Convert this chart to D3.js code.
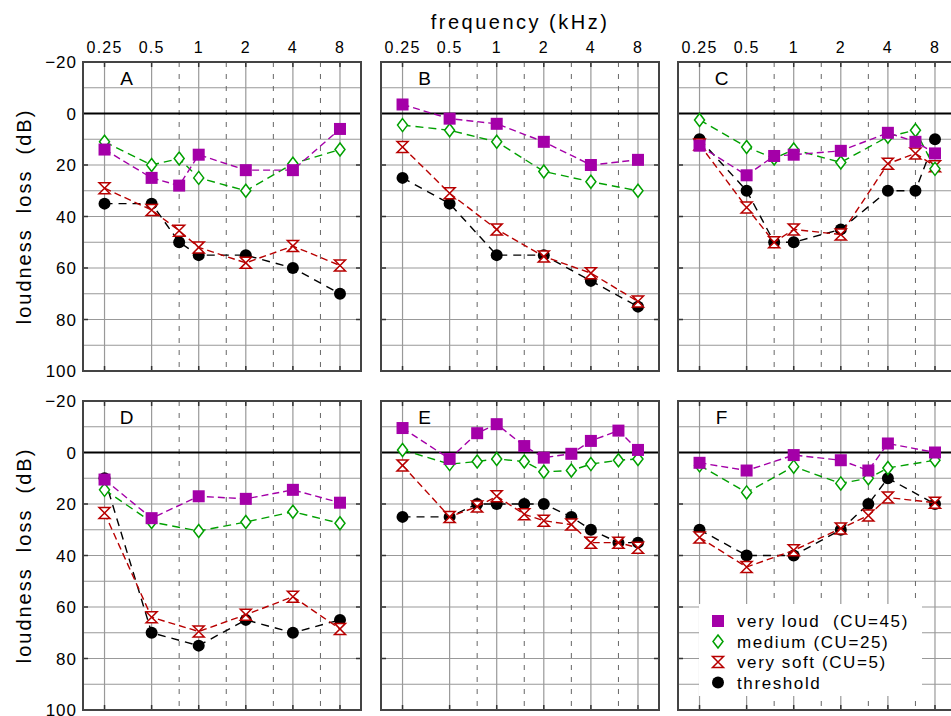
<!DOCTYPE html>
<html>
<head>
<meta charset="utf-8">
<script src="https://cdn.jsdelivr.net/npm/d3@7"></script>
<style>
  body { margin: 0; background: #fff; }
  text { font-family: "Liberation Sans", Arial, sans-serif; fill: #000; }
</style>
</head>
<body>
<svg id="chart" width="951" height="716"></svg>
<script>
// axis ticks
const octaveTicks = [0.25, 0.5, 1, 2, 4, 8];
const octaveLabels = ["0.25", "0.5", "1", "2", "4", "8"];
const halfOctaveTicks = [0.75, 1.5, 3, 6];
const dbTicks = [-20, 0, 20, 40, 60, 80, 100];
const dbGrid = [-10, 10, 20, 30, 40, 50, 60, 70, 80, 90];

// series (legend order)
const seriesNames = ["very loud  (CU=45)", "medium (CU=25)", "very soft (CU=5)", "threshold"];
const seriesKeys = ["loud", "medium", "soft", "thresh"];

// panel A
const freqA = [0.25, 0.5, 0.75, 1, 2, 4, 8];
const loudA = [14, 25, 28, 16, 22, 22, 6];
const mediumA = [11, 20, 17.5, 25, 30, 19.5, 14];
const softA = [29, 37.5, 45.5, 52, 58, 51.5, 59];
const threshA = [35, 35, 50, 55, 55, 60, 70];

// panel B
const freqB = [0.25, 0.5, 1, 2, 4, 8];
const loudB = [-3.5, 2, 4, 11, 20, 18];
const mediumB = [4.5, 6.5, 11, 22.5, 26.5, 30];
const softB = [13, 31, 45, 55.5, 62, 73];
const threshB = [25, 35, 55, 55, 65, 75];

// panel C
const freqC = [0.25, 0.5, 0.75, 1, 2, 4, 6, 8];
const loudC = [12.5, 24, 16.5, 16, 14.5, 7.5, 11, 15.5];
const mediumC = [2.5, 13, 17.5, 14, 19, 9, 6.5, 21.5];
const softC = [12, 36.5, 50, 45, 47, 19.5, 15.5, 20.5];
const threshC = [10, 30, 50, 50, 45, 30, 30, 10];

// panel D
const freqD = [0.25, 0.5, 1, 2, 4, 8];
const loudD = [10.5, 25.5, 17, 18, 14.5, 19.5];
const mediumD = [14.5, 27, 30.5, 27, 23, 27.5];
const softD = [23.5, 64, 69.5, 63, 56, 68.5];
const threshD = [10, 70, 75, 65, 70, 65];

// panel E
const freqE = [0.25, 0.5, 0.75, 1, 1.5, 2, 3, 4, 6, 8];
const loudE = [-9.5, 2.5, -7.5, -11, -2.5, 2, 0.5, -4.5, -8.5, -1];
const mediumE = [-1, 4.5, 3.5, 2.5, 3.5, 7.5, 7, 4.5, 3, 2.5];
const softE = [5, 25, 21, 17, 24, 26.5, 28, 35, 35, 37];
const threshE = [25, 25, 20, 20, 20, 20, 25, 30, 35, 35];

// panel F
const freqF = [0.25, 0.5, 1, 2, 3, 4, 8];
const loudF = [4, 7, 1, 3, 7, -3.5, 0];
const mediumF = [5, 15.5, 5.5, 12, 10, 6, 3];
const softF = [33, 44.5, 38, 29.5, 24.5, 17.5, 19.5];
const threshF = [30, 40, 40, 30, 20, 10, 20];

const panels = [
  { label: "A", col: 0, row: 0, freq: freqA, loud: loudA, medium: mediumA, soft: softA, thresh: threshA },
  { label: "B", col: 1, row: 0, freq: freqB, loud: loudB, medium: mediumB, soft: softB, thresh: threshB },
  { label: "C", col: 2, row: 0, freq: freqC, loud: loudC, medium: mediumC, soft: softC, thresh: threshC },
  { label: "D", col: 0, row: 1, freq: freqD, loud: loudD, medium: mediumD, soft: softD, thresh: threshD },
  { label: "E", col: 1, row: 1, freq: freqE, loud: loudE, medium: mediumE, soft: softE, thresh: threshE },
  { label: "F", col: 2, row: 1, freq: freqF, loud: loudF, medium: mediumF, soft: softF, thresh: threshF }
];

const style = {
  loud:   { color: "#a400a8", dash: "7,4" },
  medium: { color: "#00a000", dash: "8,5" },
  soft:   { color: "#b80000", dash: "7,4" },
  thresh: { color: "#000000", dash: "8,6" }
};

const W = 278, H = 309;
const colX = [83, 381, 678];
const rowY = [62, 401];

const x = d3.scaleLog().domain([0.1821, 10.9]).range([0, W]);
const y = d3.scaleLinear().domain([-20, 100]).range([0, H]);

const svg = d3.select("#chart");

// marker shapes
function drawMarker(sel, key, color) {
  if (key === "loud") {
    sel.append("rect").attr("x", -6).attr("y", -6).attr("width", 12).attr("height", 12)
      .attr("fill", color);
  } else if (key === "medium") {
    sel.append("path").attr("d", "M0,-6.5L5,0L0,6.5L-5,0Z")
      .attr("fill", "#fff").attr("stroke", color).attr("stroke-width", 1.5);
  } else if (key === "soft") {
    sel.append("path").attr("d", "M-5.5,-5.5L5.5,-5.5L-5.5,5.5L5.5,5.5Z")
      .attr("fill", "#fff").attr("stroke", color).attr("stroke-width", 1.5)
      .attr("stroke-linejoin", "miter");
  } else {
    sel.append("circle").attr("r", 6).attr("fill", color);
  }
}

panels.forEach(p => {
  const g = svg.append("g").attr("transform", `translate(${colX[p.col]},${rowY[p.row]})`);

  // horizontal grid
  g.selectAll("line.hgrid").data(dbGrid).join("line")
    .attr("class", "hgrid")
    .attr("x1", 0).attr("x2", W)
    .attr("y1", d => y(d)).attr("y2", d => y(d))
    .attr("stroke", "#999").attr("stroke-width", 1.2);

  // vertical grid
  g.selectAll("line.vgrid").data(octaveTicks).join("line")
    .attr("class", "vgrid")
    .attr("x1", d => x(d)).attr("x2", d => x(d))
    .attr("y1", 0).attr("y2", H)
    .attr("stroke", "#999").attr("stroke-width", 1.2);

  g.selectAll("line.vhalf").data(halfOctaveTicks).join("line")
    .attr("class", "vhalf")
    .attr("x1", d => x(d)).attr("x2", d => x(d))
    .attr("y1", 0).attr("y2", H)
    .attr("stroke", "#666").attr("stroke-width", 1)
    .attr("stroke-dasharray", "5,7");

  // legend background in panel F
  if (p.label === "F") {
    g.append("rect").attr("x", 21).attr("y", 203).attr("width", 223).attr("height", 92)
      .attr("fill", "#fff");
  }

  // zero line
  g.append("line").attr("x1", 0).attr("x2", W).attr("y1", y(0)).attr("y2", y(0))
    .attr("stroke", "#000").attr("stroke-width", 2.2);

  // inner ticks
  const majors = dbTicks.filter(d => d > -20 && d < 100 && d !== 0);
  majors.forEach(d => {
    g.append("line").attr("x1", 0).attr("x2", 5).attr("y1", y(d)).attr("y2", y(d))
      .attr("stroke", "#333").attr("stroke-width", 1.5);
    g.append("line").attr("x1", W - 5).attr("x2", W).attr("y1", y(d)).attr("y2", y(d))
      .attr("stroke", "#333").attr("stroke-width", 1.5);
  });
  octaveTicks.forEach(d => {
    g.append("line").attr("x1", x(d)).attr("x2", x(d)).attr("y1", 0).attr("y2", 5)
      .attr("stroke", "#333").attr("stroke-width", 1.5);
    g.append("line").attr("x1", x(d)).attr("x2", x(d)).attr("y1", H - 5).attr("y2", H)
      .attr("stroke", "#333").attr("stroke-width", 1.5);
  });

  // frame
  g.append("rect").attr("x", 0).attr("y", 0).attr("width", W).attr("height", H)
    .attr("fill", "none").attr("stroke", "#444").attr("stroke-width", 2);

  // panel letter
  g.append("text").attr("x", x(0.25) + 22).attr("y", 23)
    .attr("text-anchor", "middle").attr("font-size", 19).text(p.label);

  // top tick labels
  if (p.row === 0) {
    g.selectAll("text.xt").data(octaveTicks).join("text")
      .attr("class", "xt")
      .attr("x", d => x(d)).attr("y", -9)
      .attr("text-anchor", "middle").attr("font-size", 16)
      .attr("letter-spacing", 1.2)
      .text((d, i) => octaveLabels[i]);
  }

  // left tick labels
  if (p.col === 0) {
    g.selectAll("text.yt").data(dbTicks).join("text")
      .attr("class", "yt")
      .attr("x", -6).attr("y", d => y(d)).attr("dy", "0.36em")
      .attr("text-anchor", "end").attr("font-size", 17)
      .attr("letter-spacing", 1)
      .text(d => d < 0 ? "\u2212" + Math.abs(d) : d);

    g.append("text")
      .attr("transform", `translate(-52,${H / 2}) rotate(-90)`)
      .attr("text-anchor", "middle").attr("font-size", 20)
      .attr("letter-spacing", 2)
      .attr("xml:space", "preserve")
      .style("white-space", "pre")
      .text("loudness  loss  (dB)");
  }

  // series: threshold first, loud on top
  const line = d3.line().x(d => x(d.f)).y(d => y(d.v));
  ["thresh", "soft", "medium", "loud"].forEach(key => {
    const pts = p.freq.map((f, i) => ({ f: f, v: p[key][i] }));
    g.append("path").datum(pts).attr("d", line)
      .attr("fill", "none").attr("stroke", style[key].color)
      .attr("stroke-width", 1.4).attr("stroke-dasharray", style[key].dash);
    g.selectAll(null).data(pts).join("g")
      .attr("transform", d => `translate(${x(d.f)},${y(d.v)})`)
      .each(function () { drawMarker(d3.select(this), key, style[key].color); });
  });

  // legend
  if (p.label === "F") {
    const lg = g.append("g");
    seriesKeys.forEach((key, i) => {
      const row = lg.append("g").attr("transform", `translate(40,${220 + i * 20.5})`);
      drawMarker(row, key, style[key].color);
      row.append("text").attr("x", 19).attr("dy", "0.36em")
        .attr("font-size", 17).attr("letter-spacing", 1.6)
        .style("white-space", "pre")
        .text(seriesNames[i]);
    });
  }
});

// top title
svg.append("text").attr("x", colX[1] + W / 2).attr("y", 29)
  .attr("text-anchor", "middle").attr("font-size", 20)
  .attr("letter-spacing", 2.5)
  .text("frequency (kHz)");
</script>
</body>
</html>
